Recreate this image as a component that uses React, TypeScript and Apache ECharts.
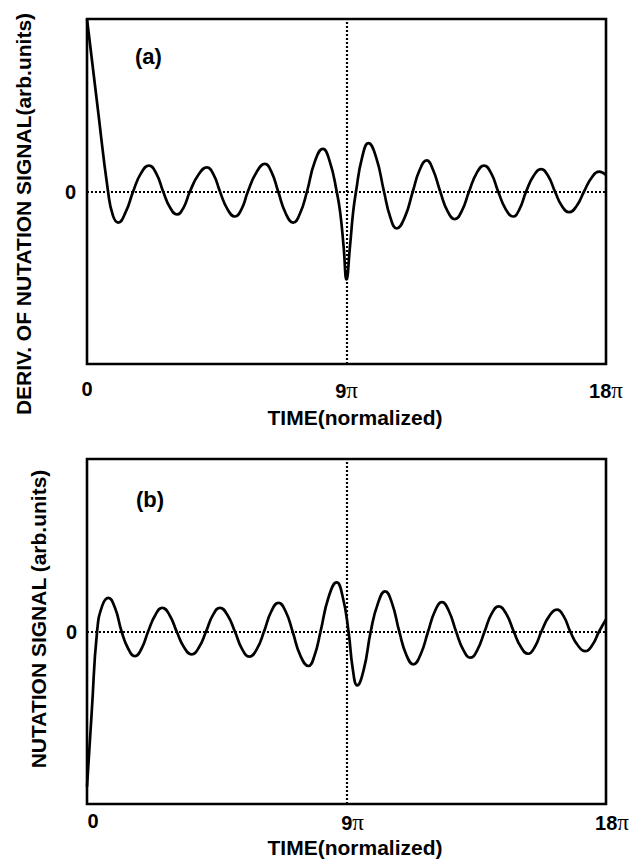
import { useEffect, useRef } from 'react';
import * as echarts from 'echarts';

// time in units of π
const timeA = [0, 0.36, 0.73, 0.9, 1.08, 1.34, 1.6, 1.87, 2.15, 2.4, 2.64, 2.88, 3.12, 3.35, 3.57, 3.87, 4.16, 4.39, 4.61, 4.87, 5.13, 5.36, 5.58, 5.88, 6.17, 6.4, 6.63, 6.89, 7.15, 7.39, 7.63, 7.9, 8.18, 8.42, 8.66, 8.78, 8.9, 9.0, 9.12, 9.23, 9.33, 9.54, 9.76, 10.03, 10.3, 10.52, 10.74, 11.02, 11.3, 11.54, 11.78, 12.0, 12.25, 12.5, 12.76, 13.0, 13.25, 13.51, 13.77, 14.02, 14.26, 14.52, 14.78, 15.0, 15.23, 15.49, 15.75, 15.99, 16.23, 16.47, 16.72, 16.98, 17.24, 17.5, 17.76, 18.0];
const signalA = [1.0, 0.5, 0, -0.14, -0.18, -0.12, 0, 0.105, 0.15, 0.105, 0, -0.093, -0.133, -0.093, 0, 0.098, 0.14, 0.098, 0, -0.102, -0.145, -0.102, 0, 0.112, 0.16, 0.112, 0, -0.126, -0.18, -0.126, 0, 0.173, 0.247, 0.173, 0, -0.12, -0.32, -0.51, -0.32, -0.12, 0, 0.196, 0.28, 0.196, 0, -0.15, -0.214, -0.15, 0, 0.126, 0.18, 0.126, 0, -0.112, -0.16, -0.112, 0, 0.105, 0.15, 0.105, 0, -0.102, -0.145, -0.102, 0, 0.091, 0.13, 0.091, 0, -0.084, -0.12, -0.084, 0, 0.08, 0.115, 0.095];

const timeB = [0, 0.17, 0.35, 0.53, 0.74, 0.97, 1.2, 1.43, 1.66, 1.89, 2.12, 2.37, 2.61, 2.86, 3.11, 3.37, 3.63, 3.88, 4.13, 4.37, 4.61, 4.87, 5.13, 5.38, 5.63, 5.89, 6.14, 6.39, 6.64, 6.89, 7.13, 7.4, 7.68, 7.89, 8.1, 8.38, 8.66, 8.87, 9.07, 9.22, 9.37, 9.6, 9.84, 10.09, 10.34, 10.58, 10.83, 11.07, 11.32, 11.57, 11.83, 12.07, 12.31, 12.55, 12.8, 13.05, 13.3, 13.54, 13.79, 14.03, 14.28, 14.54, 14.8, 15.05, 15.3, 15.53, 15.76, 16.03, 16.3, 16.53, 16.76, 17.02, 17.28, 17.52, 17.76, 18.0];
const signalB = [-0.9, -0.45, 0, 0.15, 0.195, 0.137, 0, -0.1, -0.143, -0.1, 0, 0.096, 0.137, 0.096, 0, -0.093, -0.133, -0.093, 0, 0.096, 0.137, 0.096, 0, -0.102, -0.146, -0.102, 0, 0.116, 0.166, 0.116, 0, -0.14, -0.2, -0.14, 0, 0.2, 0.285, 0.2, 0, -0.22, -0.312, -0.22, 0, 0.163, 0.233, 0.163, 0, -0.133, -0.19, -0.133, 0, 0.119, 0.17, 0.119, 0, -0.106, -0.152, -0.106, 0, 0.102, 0.146, 0.102, 0, -0.09, -0.129, -0.09, 0, 0.089, 0.127, 0.089, 0, -0.08, -0.114, -0.08, 0, 0.07];

const xTickLabels: Record<number, string> = { 0: '0', 9: '9', 18: '18' };
const piTicks = [9, 18];
const panelLabels = ['(a)', '(b)'];
const yTitles = ['DERIV. OF NUTATION SIGNAL(arb.units)', 'NUTATION SIGNAL (arb.units)'];
const xTitle = 'TIME(normalized)';
const switchTime = 9;

const FONT = '"Liberation Sans", Arial, sans-serif';

export default function App() {
  const ref = useRef<HTMLDivElement>(null);
  useEffect(() => {
    const chart = echarts.init(ref.current!, null, { renderer: 'svg' });
    const zip = (t: number[], v: number[]) => t.map((x, i) => [x, v[i]]);

    const xLabelFormatter = (val: number) => {
      const s = xTickLabels[val];
      if (s === undefined) return '';
      return piTicks.includes(val) ? `{n|${s}}{p|π}` : `{n|${s}}`;
    };
    const rich = {
      n: { fontFamily: FONT, fontWeight: 'bold', fontSize: 20, color: '#000' },
      p: { fontFamily: '"Liberation Serif", "Times New Roman", serif', fontWeight: 'normal', fontSize: 23, color: '#000' },
    };

    const makeX = (idx: number, labelMargin: number, labelPad: number[], nameGap: number) => ({
      type: 'value',
      gridIndex: idx,
      min: 0,
      max: 18,
      interval: 9,
      axisLine: { show: false },
      axisTick: { show: false },
      splitLine: { show: false },
      axisLabel: {
        margin: labelMargin,
        padding: labelPad,
        formatter: xLabelFormatter,
        rich,
        showMinLabel: true,
        showMaxLabel: true,
      },
      name: xTitle,
      nameLocation: 'middle',
      nameGap,
      nameTextStyle: {
        fontFamily: FONT,
        fontWeight: 'bold',
        fontSize: 21,
        color: '#000',
        padding: [0, 0, 0, 17],
      },
    });

    const makeY = (idx: number, labelMargin: number, labelPad: number[], nameGap: number, namePad: number[]) => ({
      type: 'value',
      gridIndex: idx,
      min: -1,
      max: 1,
      interval: 1,
      axisLine: { show: false },
      axisTick: { show: false },
      splitLine: { show: false },
      axisLabel: {
        margin: labelMargin,
        padding: labelPad,
        formatter: (v: number) => (v === 0 ? '0' : ''),
        fontFamily: FONT,
        fontWeight: 'bold',
        fontSize: 20,
        color: '#000',
      },
      name: yTitles[idx],
      nameLocation: 'middle',
      nameGap,
      nameTextStyle: {
        fontFamily: FONT,
        fontWeight: 'bold',
        fontSize: 21,
        color: '#000',
        padding: namePad,
      },
    });

    const refLines = {
      silent: true,
      symbol: ['none', 'none'],
      label: { show: false },
      lineStyle: { color: '#000', type: [2, 2], width: 2.2 },
      data: [{ yAxis: 0 }, { xAxis: switchTime }],
    };

    const makeSeries = (idx: number, t: number[], v: number[]) => ({
      type: 'line',
      xAxisIndex: idx,
      yAxisIndex: idx,
      data: zip(t, v),
      smooth: 0.5,
      showSymbol: false,
      symbol: 'none',
      clip: true,
      lineStyle: { color: '#000', width: 2.7 },
      markLine: refLines,
    });

    const option = {
      animation: false,
      backgroundColor: '#fff',
      grid: [
        { left: 87, top: 19, width: 519, height: 345, show: true, borderColor: '#000', borderWidth: 2.6, backgroundColor: 'transparent' },
        { left: 87, top: 459, width: 519, height: 345, show: true, borderColor: '#000', borderWidth: 2.6, backgroundColor: 'transparent' },
      ],
      xAxis: [makeX(0, 15, [0, 0, 0, 0], 43), makeX(1, 7, [0, 0, 0, 12], 33)],
      yAxis: [makeY(0, 11, [10, 0, 0, 0], 53, [0, 45, 0, 0]), makeY(1, 10, [0, 0, 0, 0], 38, [0, 0, 0, 25])],
      series: [makeSeries(0, timeA, signalA), makeSeries(1, timeB, signalB)],
      graphic: [
        { type: 'text', left: 135, top: 45, style: { text: panelLabels[0], font: `bold 22px ${FONT}`, fill: '#000' } },
        { type: 'text', left: 136, top: 488, style: { text: panelLabels[1], font: `bold 22px ${FONT}`, fill: '#000' } },
      ],
    };
    chart.setOption(option as any);
    return () => chart.dispose();
  }, []);
  return (
    <div
      ref={ref}
      style={{ position: 'fixed', left: 0, top: 0, width: 644, height: 865, background: '#fff' }}
    />
  );
}
